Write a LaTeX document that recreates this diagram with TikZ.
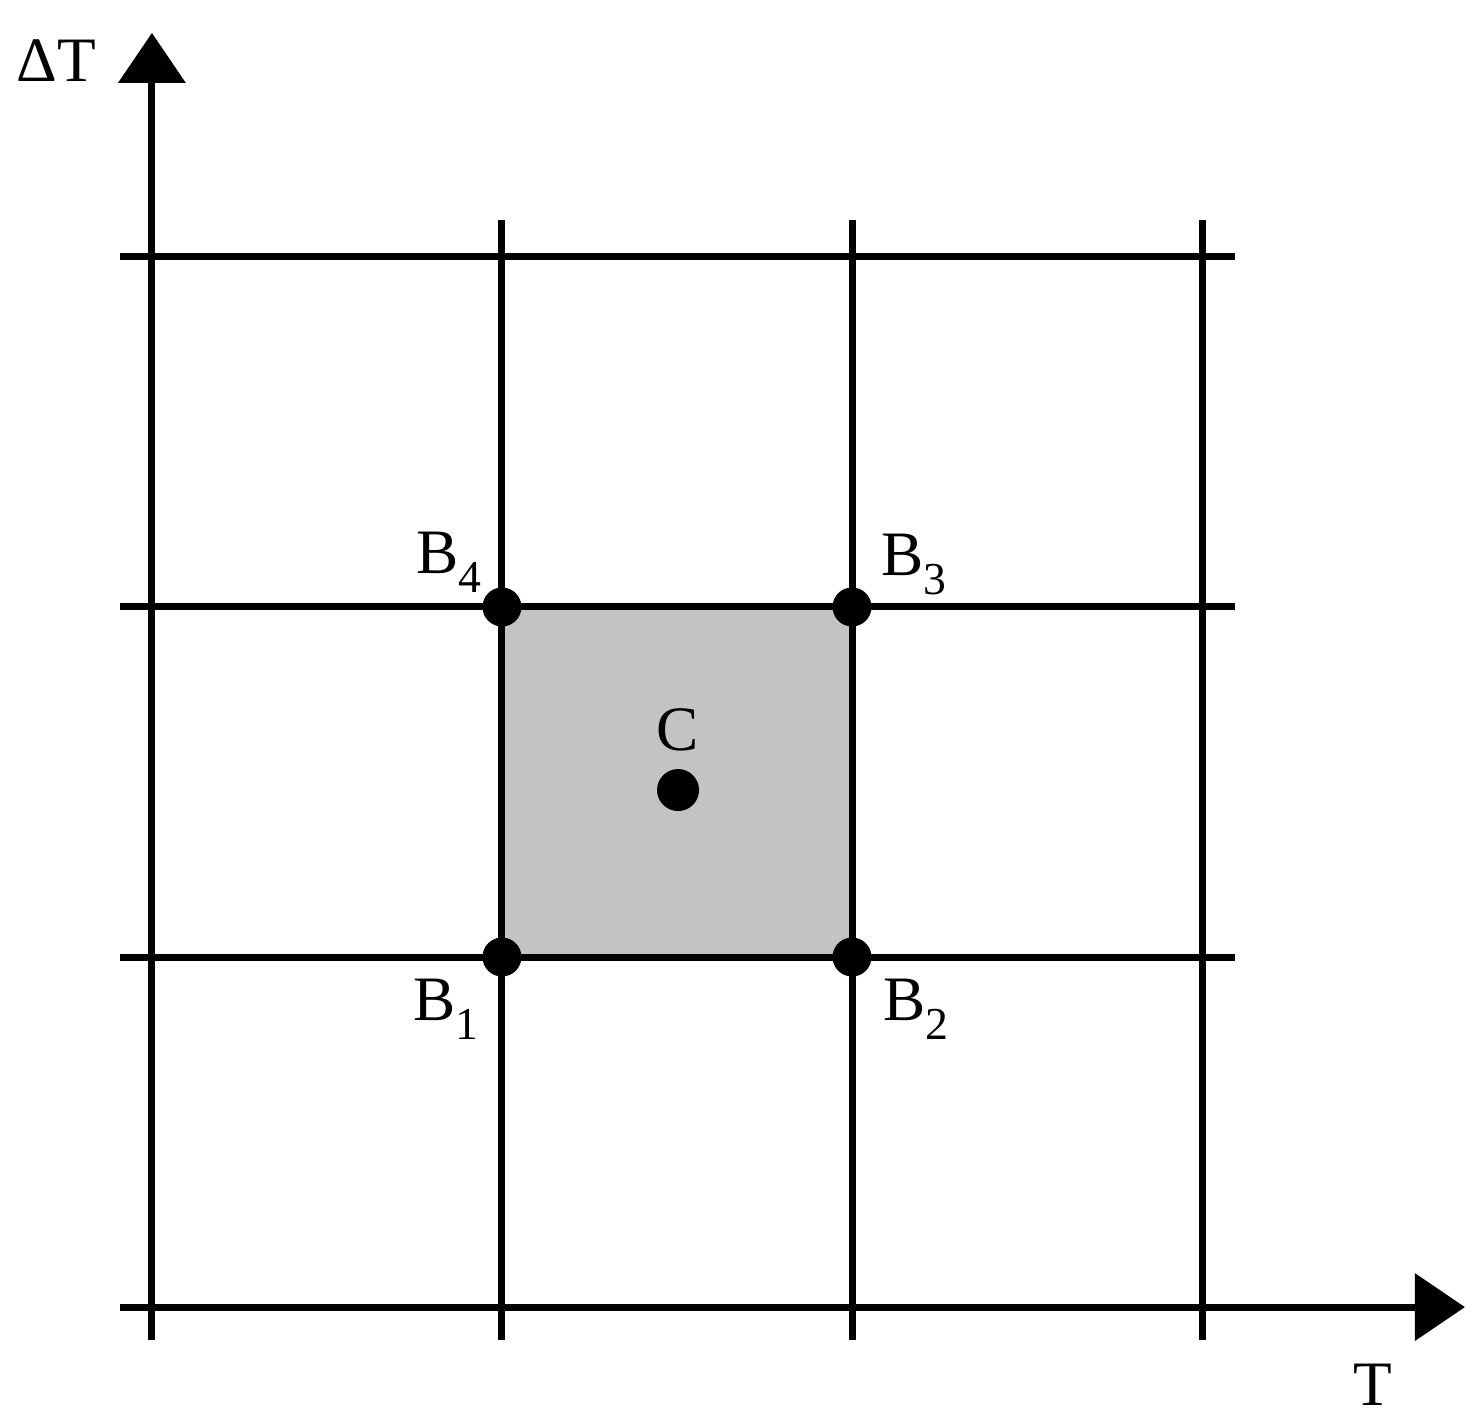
\documentclass[tikz,border=0pt]{standalone}
\usepackage{fontspec}
\setmainfont{Liberation Serif}
\usepackage{tikz}
\usetikzlibrary{arrows.meta, positioning}

\definecolor{cellgray}{RGB}{195,195,195}
\newcommand{\Bsub}[1]{B\raisebox{-0.3em}{\fontsize{13}{13}\selectfont #1}}

\tikzset{
  gridline/.style={line width=2pt},
  axis/.style={line width=2pt, -{Triangle[length=5mm, width=6.6mm]}},
  corner/.style={circle, fill=black, inner sep=0pt, minimum size=3.9mm},
  centre/.style={circle, fill=black, inner sep=0pt, minimum size=4.2mm},
  lbl/.style={inner sep=0pt, anchor=base, font=\fontsize{18}{18}\selectfont}
}

\begin{document}
\begin{tikzpicture}[x=3.5cm, y=3.5cm]
    \useasboundingbox (-0.434, -0.343) rectangle (3.794, 3.734);
% cell corners
\coordinate (p1) at (1, 1);
\coordinate (p3) at (2, 2);
\fill[cellgray] (p1) rectangle (p3);
% grid
\foreach \k in {1, 2, 3} {
    \draw[gridline] (\k, -0.094) -- (\k, 3.106);
    \draw[gridline] (-0.091, \k) -- (3.094, \k);
}
% axes
\coordinate (ybot) at (0, -0.094);
\coordinate (ytop) at (0, 3.64);
\coordinate (xleft) at (-0.091, 0);
\coordinate (xright) at (3.751, 0);
\draw[axis] (ybot) -- (ytop);
\draw[axis] (xleft) -- (xright);
\node[lbl] (dT) at (-0.274, 3.5) {ΔT};
\node[lbl] (T) at (3.489, -0.28) {T};
% points
\node[corner] (b1) at (1, 1) {};
\node[corner] (b2) at (2, 1) {};
\node[corner] (b3) at (2, 2) {};
\node[corner] (b4) at (1, 2) {};
\node[centre] (c) at (1.503, 1.477) {};
\node[lbl] (lb1) at (0.84, 0.82) {\Bsub{1}};
\node[lbl] (lb2) at (2.183, 0.82) {\Bsub{2}};
\node[lbl] (lb3) at (2.177, 2.091) {\Bsub{3}};
\node[lbl] (lb4) at (0.849, 2.097) {\Bsub{4}};
\node[lbl] (lc) at (1.503, 1.591) {C};
    \end{tikzpicture}
\end{document}
